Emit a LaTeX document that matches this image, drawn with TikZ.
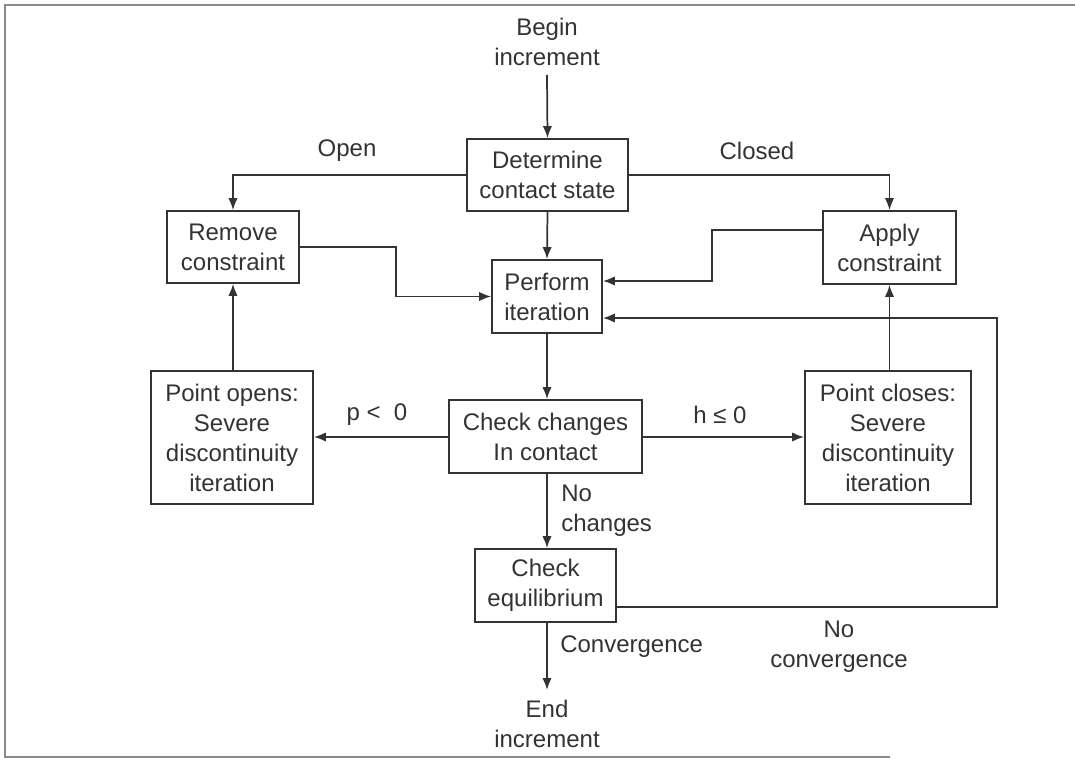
\documentclass[tikz,border=0pt]{standalone}
\usepackage{fontspec}
\setmainfont{Liberation Sans}
\usetikzlibrary{arrows.meta}
\definecolor{ink}{HTML}{333333}
\definecolor{framec}{HTML}{8A8A8A}
\tikzset{
  box/.style={draw=ink, line width=1.3pt, align=center, inner sep=0pt, text=ink,
    font=\fontsize{18}{22.5}\selectfont},
  lbl/.style={align=center, inner sep=0pt, text=ink, font=\fontsize{18}{22.5}\selectfont},
  conn/.style={draw=ink, line width=1.3pt},
  arr/.style={conn, -{Latex[length=9pt,width=7pt]}},
}
\begin{document}
\begin{tikzpicture}[x=0.75pt,y=-0.75pt]
\useasboundingbox (0,0) rectangle (1075,759);
% frame
\draw[framec, line width=1.2pt] (1075,5) -- (5,5) -- (5,757) -- (890,757);

% nodes
\node[lbl] (begin) at (547,42) {Begin\\increment};
\node[box, minimum width=120.75pt, minimum height=54pt] (det) at (547.5,175) {Determine\\contact state};
\node[box, minimum width=99pt, minimum height=54pt] (rem) at (233,247) {Remove\\constraint};
\node[box, minimum width=99.75pt, minimum height=54.75pt] (app) at (889.5,247.5) {Apply\\constraint};
\node[box, minimum width=82.5pt, minimum height=54.75pt] (perf) at (547,296.5) {Perform\\iteration};
\node[box, minimum width=121.5pt, minimum height=99.75pt] (popen) at (232,437.5) {Point opens:\\Severe\\discontinuity\\iteration};
\node[box, minimum width=144.75pt, minimum height=54.75pt] (chk) at (545.5,436.5) {Check changes\\In contact};
\node[box, minimum width=124.5pt, minimum height=99.75pt] (pclose) at (888,437.5) {Point closes:\\Severe\\discontinuity\\iteration};
\node[box, minimum width=105.75pt, minimum height=54.75pt] (eq) at (545.5,585.5) {Check\\equilibrium};
\node[lbl] (end) at (547,724) {End\\increment};

% labels
\node[lbl] (lopen) at (347,151) {Open};
\node[lbl] (lclosed) at (757,151) {Closed};
\node[lbl] (lp) at (377,415) {p <\ \ 0};
\node[lbl] (lh) at (720,415) {h ≤ 0};
\node[lbl, anchor=west, align=left] (lnoch) at (561,511) {No\\changes};
\node[lbl, anchor=west] (lconv) at (560,647) {Convergence};
\node[lbl] (lnoconv) at (839,647) {No\\convergence};

% connectors
\coordinate (bstart) at (547,75);
\coordinate (eend) at (547,690);
\draw[arr] (bstart) -- (det.north);
\draw[arr] (det.west) -| (rem.north);
\draw[arr] (det.east) -| (app.north);
\draw[arr] (det.south) -- (perf.north);
\draw[arr] (rem.east) -- (396,247) |- (perf.west);
\draw[arr] (app.west |- 0,230) -- (712,230) |- (perf.east |- 0,281);
\draw[arr] (perf.south) -- (perf.south |- chk.north);
\draw[arr] (chk.west |- 0,437) -- (popen.east |- 0,437);
\draw[arr] (chk.east |- 0,437) -- (pclose.west |- 0,437);
\draw[arr] (popen.north -| rem.south) -- (rem.south);
\draw[arr] (pclose.north -| app.south) -- (app.south);
\draw[arr] (chk.south -| 547,0) -- (eq.north -| 547,0);
\draw[arr] (eq.south -| 547,0) -- (eend);
\draw[arr] (eq.east |- 0,607) -- (997,607) -- (997,318) -- (perf.east |- 0,318);
\end{tikzpicture}
\end{document}
